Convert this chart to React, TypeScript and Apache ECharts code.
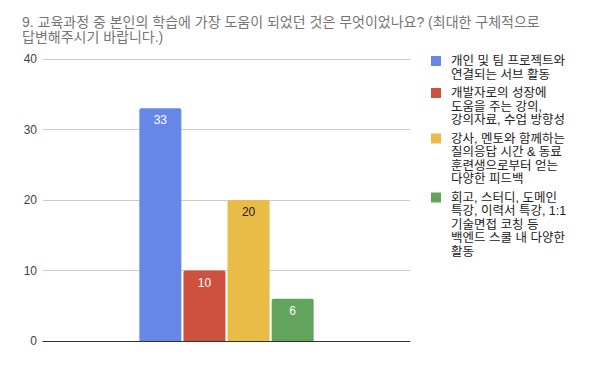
import React, { useEffect, useRef } from "react";
import * as echarts from "echarts";

const titleText =
  "9. 교육과정 중 본인의 학습에 가장 도움이 되었던 것은 무엇이었나요? (최대한 구체적으로\n답변해주시기 바랍니다.)";
const categories = [""];
const seriesNames = [
  "개인 및 팀 프로젝트와 연결되는 서브 활동",
  "개발자로의 성장에 도움을 주는 강의, 강의자료, 수업 방향성",
  "강사, 멘토와 함께하는 질의응답 시간 & 동료 훈련생으로부터 얻는 다양한 피드백",
  "회고, 스터디, 도메인 특강, 이력서 특강, 1:1 기술면접 코칭 등 백엔드 스쿨 내 다양한 활동",
];
const legendLabels = [
  "개인 및 팀 프로젝트와\n연결되는 서브 활동",
  "개발자로의 성장에\n도움을 주는 강의,\n강의자료, 수업 방향성",
  "강사, 멘토와 함께하는\n질의응답 시간 & 동료\n훈련생으로부터 얻는\n다양한 피드백",
  "회고, 스터디, 도메인\n특강, 이력서 특강, 1:1\n기술면접 코칭 등\n백엔드 스쿨 내 다양한\n활동",
];
const values = [33, 10, 20, 6];
const colors = ["#6687e8", "#ce5140", "#e8bc46", "#62a45c"];
const labelColors = ["#ffffff", "#ffffff", "#222222", "#ffffff"];

const FONT = "'Liberation Sans', Arial, 'Noto Sans CJK KR', sans-serif";

export default function App() {
  const ref = useRef<HTMLDivElement>(null);
  useEffect(() => {
    if (!ref.current) return;
    const chart = echarts.init(ref.current, null, { renderer: "svg" });

    const lh = 13.5;
    const gap = 5;
    let cy = 61;
    const legendGraphics: any[] = [];
    legendLabels.forEach((lab, i) => {
      const n = lab.split("\n").length;
      legendGraphics.push({
        type: "rect",
        left: 431,
        top: cy - 5,
        shape: { width: 10, height: 10 },
        style: { fill: colors[i] },
      });
      legendGraphics.push({
        type: "text",
        left: 451,
        top: cy - lh / 2,
        style: {
          text: lab,
          fontSize: 12.5,
          lineHeight: lh,
          fontFamily: FONT,
          fill: "#222222",
        },
      });
      cy += n * lh + gap;
    });

    chart.setOption({
      animation: false,
      title: {
        text: titleText,
        left: 17,
        top: 10,
        textStyle: {
          fontSize: 14,
          fontWeight: "normal",
          color: "#757575",
          fontFamily: FONT,
          lineHeight: 14.5,
        },
      },
      grid: { left: 43, right: 184, top: 59, bottom: 24, containLabel: false },
      xAxis: {
        type: "category",
        data: categories,
        axisLine: { lineStyle: { color: "#333333" } },
        axisTick: { show: false },
        axisLabel: { show: false },
      },
      yAxis: {
        type: "value",
        min: 0,
        max: 40,
        interval: 10,
        axisLine: { show: false },
        axisTick: { show: false },
        splitLine: { lineStyle: { color: "#cccccc" } },
        axisLabel: { color: "#444444", fontSize: 12, margin: 6, fontFamily: FONT },
      },
      series: seriesNames.map((name, i) => ({
        name,
        type: "bar",
        data: [values[i]],
        barWidth: 42,
        barGap: "5%",
        itemStyle: { color: colors[i], borderRadius: [2, 2, 0, 0] },
        label: {
          show: true,
          position: "insideTop",
          distance: 6,
          color: labelColors[i],
          fontSize: 12,
          fontFamily: FONT,
        },
      })),
      graphic: legendGraphics,
    });
    return () => chart.dispose();
  }, []);
  return <div ref={ref} style={{ width: 594, height: 365, margin: -8 }} />;
}
